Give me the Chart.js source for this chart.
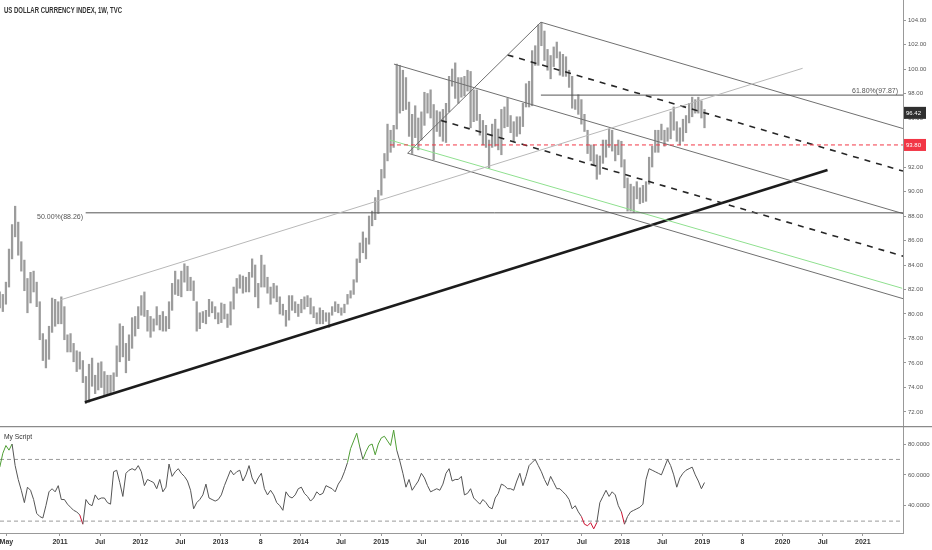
<!DOCTYPE html>
<html><head><meta charset="utf-8">
<script src="https://cdn.jsdelivr.net/npm/chart.js@4.4.1/dist/chart.umd.min.js"></script>
<style>
html,body{margin:0;padding:0;background:#fff;overflow:hidden;}
#p1{position:absolute;left:0;top:0;width:932px;height:426px;}
#p2{position:absolute;left:0;top:426px;width:932px;height:124px;}
</style></head><body>
<div id="p1"><canvas id="c1" width="932" height="426"></canvas></div>
<div id="p2"><canvas id="c2" width="932" height="124"></canvas></div>
<script>
// ---------- DATA ----------
const title = 'US DOLLAR CURRENCY INDEX, 1W, TVC';
const seriesStart = 2010.25;           // first bar (Apr 2010)
const periodDays = 14;                 // one bar = two weeks
const lows = [
80.5,80.2,80.8,82.2,84.5,86.3,84.8,83.5,81.9,80.1,80.9,81.8,80.6,77.9,76.2,75.6,76.3,78.5,79.0,79.2,
79.2,77.9,76.9,76.9,76.1,75.3,75.5,74.4,72.7,72.8,74.1,73.5,73.8,74.0,73.4,73.4,73.4,73.7,74.9,76.1,76.5,75.2,76.2,77.2,78.2,78.8,
79.9,79.8,78.6,78.1,78.6,79.1,78.7,78.6,78.6,78.8,80.3,81.6,81.5,81.4,82.6,81.9,81.9,81.1,78.6,78.8,79.3,79.2,79.8,80.1,79.6,79.2,
79.3,79.6,78.9,79.1,80.4,81.7,82.1,81.7,81.8,81.8,83.0,81.4,80.5,82.2,82.2,81.7,80.8,81.3,81.0,80.0,79.9,79.0,79.5,80.3,80.1,79.8,
80.1,80.4,80.6,80.0,79.7,79.2,79.2,79.2,79.4,78.9,79.9,80.2,80.1,79.9,80.1,80.8,81.3,81.6,82.6,84.2,85.0,84.5,85.7,87.2,87.7,88.2,
89.7,91.1,92.5,93.2,93.6,95.1,96.4,96.6,96.7,94.5,93.1,94.4,93.4,94.2,95.4,96.4,96.0,92.6,94.9,94.5,94.1,94.0,96.5,98.6,97.6,97.2,
97.7,97.8,98.2,95.2,95.7,95.8,94.6,93.8,93.6,91.9,93.6,93.7,93.4,93.0,95.2,95.3,94.8,94.1,94.5,94.7,95.3,96.9,96.9,97.0,100.3,100.3,101.9,
100.7,99.9,99.2,100.2,100.9,99.5,99.4,99.4,98.5,96.8,96.7,96.3,95.5,94.9,93.1,92.5,92.2,91.0,91.4,92.3,92.8,93.6,93.3,92.5,93.0,92.0,
90.3,88.4,88.4,88.3,89.4,89.0,89.1,89.2,90.6,92.0,93.2,93.2,94.2,93.7,94.1,94.3,95.0,94.1,93.8,94.1,94.8,95.6,96.1,96.4,96.4,96.0,95.2
];
const highs = [
81.8,81.6,82.6,85.3,87.3,88.8,87.5,85.9,84.4,82.9,83.4,83.5,82.6,81.0,78.4,77.9,79.0,81.3,81.2,81.0,
81.4,80.6,78.3,78.4,77.6,77.0,76.9,76.2,74.9,75.9,76.4,75.0,76.0,76.1,75.3,75.0,75.0,75.2,77.4,79.2,79.0,77.6,78.3,79.7,79.8,80.6,
81.5,81.8,80.3,79.8,79.6,80.6,79.9,80.2,79.8,81.0,82.5,83.5,82.8,83.5,84.1,83.9,83.0,82.7,81.0,80.1,80.2,80.3,81.2,81.0,80.6,80.1,
80.9,80.8,80.0,81.0,82.2,82.9,83.2,83.1,83.0,83.4,84.5,84.0,82.5,84.8,84.0,83.0,82.2,82.5,82.3,81.4,80.8,80.3,81.5,81.5,81.0,80.8,
81.2,81.4,81.5,81.3,80.6,80.1,80.5,80.3,80.1,80.1,80.6,81.0,80.8,80.5,80.8,81.6,81.9,82.8,84.5,85.8,86.7,86.2,88.0,88.4,89.5,90.1,
91.8,93.1,95.5,95.0,95.4,100.4,100.3,99.9,99.3,97.3,96.3,97.0,96.0,96.5,98.1,98.0,98.3,97.1,96.6,96.5,96.7,97.2,99.4,100.0,100.5,99.3,
99.3,99.4,99.9,99.8,98.3,98.3,96.3,95.8,95.4,94.2,95.5,95.9,95.1,96.7,96.9,97.6,96.2,95.7,96.1,96.1,97.2,98.8,99.0,101.5,101.9,103.6,103.8,
103.1,101.6,101.1,101.8,102.2,101.4,101.2,101.0,99.9,99.4,97.5,97.9,97.5,96.3,95.0,93.8,93.8,93.0,92.9,94.2,94.2,95.1,95.0,93.8,94.2,94.1,
92.6,91.1,90.6,90.4,90.8,90.3,90.5,90.8,92.8,93.7,95.0,95.0,95.5,95.0,95.2,96.5,96.9,95.7,95.2,95.9,96.2,97.2,97.7,97.5,97.7,97.4,96.7
];
const indicator = [
65,74,79,76,80,66,57,50,42,52,50,44,35,33,32,40,49,51,49,53,
44,44,41,39,37,36,34,28,44,41,40,47,44,45,45,42,41,62,63,55,46,61,63,64,63,66,
62,53,57,56,55,51,57,49,52,67,59,62,64,61,59,56,50,38,42,44,47,54,45,44,43,44,
47,53,58,63,60,62,63,56,60,66,58,54,58,61,51,47,50,47,42,40,37,49,46,45,47,51,
52,48,46,43,45,49,47,48,53,52,51,49,54,57,62,68,77,82,87,78,70,75,79,80,73,80,
84,85,82,79,89,76,69,61,52,57,50,53,56,61,58,53,49,50,51,50,54,61,64,56,57,57,
59,47,48,51,45,43,41,44,42,39,38,45,48,54,53,51,51,50,56,61,53,59,66,68,70,66,62,
57,53,59,55,51,51,49,47,44,38,40,36,33,28,27,29,25,29,42,46,50,46,49,47,40,36,
28,33,36,37,38,39,41,57,64,63,62,61,60,65,70,66,60,52,58,61,63,64,65,60,56,51,55
];
const lastPrice = 96.42;
const alertLevel = 93.80;
const indicatorLevels = [70, 30];
const priceTicks = [72,74,76,78,80,82,84,86,88,90,92,94,96,98,100,102,104];
const indicatorTicks = [40,60,80];
const timeTicks = [2010.333,2011,2011.5,2012,2012.5,2013,2013.5,2014,2014.5,2015,2015.5,2016,2016.5,2017,2017.5,2018,2018.5,2019,2019.5,2020,2020.5,2021];
const timeTickLabels = ['May','2011','Jul','2012','Jul','2013','8','2014','Jul','2015','Jul','2016','Jul','2017','Jul','2018','Jul','2019','8','2020','Jul','2021'];
// drawing anchors [time, price]
const trendStart = [2011.31, 72.79], trendEnd = [2020.56, 91.76];
const thinStart = [2011.00, 81.14], thinEnd = [2020.25, 100.06];
const pitchP1 = [2015.16, 100.40], pitchP2 = [2016.99, 103.82], pitchP3 = [2015.33, 93.13];
const greenStart = [2015.11, 94.20], greenEnd = [2021.49, 82.10];
const fib50 = {from: 2011.32, level: 88.26, label: '50.00%(88.26)'};
const fib618 = {from: 2016.99, level: 97.87, label: '61.80%(97.87)'};
const alertFrom = 2015.11;

// ---------- SETUP ----------
const X_MIN = 2010.253, X_MAX = 2021.5;
const FONT = '"Liberation Sans Narrow","Liberation Sans",Arial,sans-serif';
const step = periodDays / 365.25;
const times = lows.map((_, i) => seriesStart + i * step);
const bars = lows.map((lo, i) => ({x: times[i], y: [lo, highs[i]]}));

function seg(a, b, color, width, dash) {
  return {type: 'line', data: [{x: a[0], y: a[1]}, {x: b[0], y: b[1]}], borderColor: color,
    borderWidth: width, borderDash: dash || [], pointRadius: 0, fill: false, order: 1, tension: 0};
}
// pitchfork
const mid = [(pitchP2[0] + pitchP3[0]) / 2, (pitchP2[1] + pitchP3[1]) / 2];
const slope = (mid[1] - pitchP1[1]) / (mid[0] - pitchP1[0]);
const toEdge = p => [X_MAX, p[1] + slope * (X_MAX - p[0])];
const q1 = [pitchP2[0] + 0.25 * (pitchP3[0] - pitchP2[0]), pitchP2[1] + 0.25 * (pitchP3[1] - pitchP2[1])];
const q3 = [pitchP2[0] + 0.75 * (pitchP3[0] - pitchP2[0]), pitchP2[1] + 0.75 * (pitchP3[1] - pitchP2[1])];
const PF = '#707070', DASH = '#262626';

const overlay = [
  seg(thinStart, thinEnd, '#b8b8b8', 1),
  seg([fib50.from, fib50.level], [X_MAX, fib50.level], '#555', 1),
  seg([fib618.from, fib618.level], [X_MAX, fib618.level], '#555', 1),
  seg([alertFrom, alertLevel], [X_MAX, alertLevel], '#f23645', 1, [4, 3]),
  seg(greenStart, greenEnd, '#8fe08f', 1),
  seg(pitchP3, pitchP2, PF, 1),
  seg(pitchP1, toEdge(pitchP1), PF, 1),
  seg(pitchP2, toEdge(pitchP2), PF, 1),
  seg(pitchP3, toEdge(pitchP3), PF, 1),
  seg(q1, toEdge(q1), DASH, 1.6, [6, 6]),
  seg(q3, toEdge(q3), DASH, 1.6, [6, 6]),
  seg(trendStart, trendEnd, '#1c1c1c', 2.6)
];

const textPlugin1 = {
  id: 'texts1',
  afterDraw(chart) {
    const ctx = chart.ctx, y = chart.scales.y;
    ctx.save();
    ctx.fillStyle = '#333'; ctx.font = 'bold 8.5px ' + FONT; ctx.textBaseline = 'middle'; ctx.textAlign = 'left';
    ctx.fillText(title, 4, 11, 118);
    ctx.fillStyle = '#555'; ctx.font = '7px ' + FONT;
    ctx.textAlign = 'right';
    ctx.fillText(fib50.label, 83, y.getPixelForValue(fib50.level) + 4.5, 48);
    ctx.fillText(fib618.label, 898, y.getPixelForValue(fib618.level) - 4.5, 48);
    const box = (v, bg) => {
      const py = y.getPixelForValue(v);
      ctx.fillStyle = bg; ctx.fillRect(904, py - 6, 22, 12);
      ctx.fillStyle = '#fff'; ctx.font = '6px ' + FONT; ctx.textAlign = 'left';
      ctx.fillText(v.toFixed(2), 906, py + 0.5, 18);
    };
    box(lastPrice, '#2f2f2f');
    box(alertLevel, '#f23645');
    ctx.restore();
  }
};

new Chart(document.getElementById('c1'), {
  type: 'bar',
  data: {datasets: [
    {type: 'bar', data: bars, backgroundColor: '#9c9c9c', borderWidth: 0, barThickness: 1.6, grouped: false, order: 10},
    ...overlay
  ]},
  options: {
    responsive: false, animation: false, events: [],
    layout: {padding: 0},
    plugins: {legend: {display: false}, tooltip: {enabled: false}},
    scales: {
      x: {type: 'linear', min: X_MIN, max: X_MAX, display: false, offset: false, grid: {offset: false}},
      y: {type: 'linear', position: 'right', min: 70.857, max: 105.633,
        afterFit(s) { s.width = 29; s.paddingTop = 0; s.paddingBottom = 0; },
        afterBuildTicks(s) { s.ticks = priceTicks.map(v => ({value: v})); },
        ticks: {callback: v => Number(v).toFixed(2), font: {size: 6, family: FONT}, color: '#555', padding: 2, autoSkip: false},
        grid: {drawOnChartArea: false, drawTicks: true, tickLength: 3, color: '#999'},
        border: {display: true, color: '#999', width: 1}
      }
    }
  },
  plugins: [textPlugin1]
});

const textPlugin2 = {
  id: 'texts2',
  afterDraw(chart) {
    const ctx = chart.ctx;
    ctx.save();
    ctx.strokeStyle = '#8a8a8a'; ctx.lineWidth = 1.5;
    ctx.beginPath(); ctx.moveTo(0, 0.5); ctx.lineTo(932, 0.5); ctx.stroke();
    ctx.fillStyle = '#333'; ctx.font = '7.5px ' + FONT; ctx.textBaseline = 'middle';
    ctx.fillText('My Script', 4, 11, 28);
    ctx.restore();
  }
};

const indPoints = indicator.map((v, i) => ({x: times[i], y: v}));
const levelSets = indicatorLevels.map(l => ({type: 'line', data: [{x: X_MIN, y: l}, {x: X_MAX, y: l}],
  borderColor: '#9a9a9a', borderWidth: 1, borderDash: [4, 3], pointRadius: 0, order: 5}));

new Chart(document.getElementById('c2'), {
  type: 'line',
  data: {datasets: [
    {data: indPoints, borderColor: '#555', borderWidth: 1, pointRadius: 0, tension: 0, order: 1,
      segment: {borderColor: c => c.p1.parsed.y > indicatorLevels[0] ? '#4f9e35' : (c.p1.parsed.y < indicatorLevels[1] ? '#cc1030' : '#555')}},
    ...levelSets
  ]},
  options: {
    responsive: false, animation: false, events: [],
    layout: {padding: 0},
    plugins: {legend: {display: false}, tooltip: {enabled: false}},
    scales: {
      x: {type: 'linear', min: X_MIN, max: X_MAX, position: 'bottom',
        afterFit(s) { s.height = 17; s.paddingLeft = 0; s.paddingRight = 0; },
        afterBuildTicks(s) { s.ticks = timeTicks.map(v => ({value: v})); },
        ticks: {callback: (v, i) => timeTickLabels[i], font: {size: 7, family: FONT, weight: 'bold'}, color: '#333',
          padding: 2, autoSkip: false, maxRotation: 0, minRotation: 0},
        grid: {drawOnChartArea: false, drawTicks: true, tickLength: 3, color: '#999'},
        border: {display: true, color: '#999', width: 1}
      },
      y: {type: 'linear', position: 'right', min: 22.3, max: 91.67,
        afterFit(s) { s.width = 29; s.paddingTop = 0; s.paddingBottom = 0; },
        afterBuildTicks(s) { s.ticks = indicatorTicks.map(v => ({value: v})); },
        ticks: {callback: v => Number(v).toFixed(4), font: {size: 6, family: FONT}, color: '#555', padding: 2, autoSkip: false},
        grid: {drawOnChartArea: false, drawTicks: true, tickLength: 3, color: '#999'},
        border: {display: true, color: '#999', width: 1}
      }
    }
  },
  plugins: [textPlugin2]
});
</script>
</body></html>
